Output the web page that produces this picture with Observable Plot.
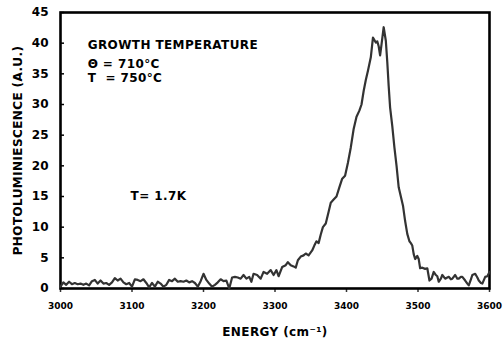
<!DOCTYPE html>
<html>
<head>
<meta charset="utf-8">
<script src="https://cdn.jsdelivr.net/npm/d3@7"></script>
<script src="https://cdn.jsdelivr.net/npm/@observablehq/plot@0.6"></script>
<style>
  html, body { margin: 0; padding: 0; background: #fff; }
  svg text { white-space: pre; }
</style>
</head>
<body>
<div id="chart"></div>
<script>
const energy = [
  3000,3004,3008,3012,3016,3020,3024,3028,3032,3036,3040,3044,3048,3052,3056,3060,3064,3068,3072,3076,
  3080,3084,3088,3092,3096,3100,3104,3108,3112,3116,3120,3124,3128,3132,3136,3140,3144,3148,3152,3156,
  3160,3164,3168,3172,3176,3180,3184,3188,3192,3196,3200,3204,3208,3212,3216,3220,3224,3228,3232,3236,
  3240,3244,3248,3252,3256,3260,3264,3267,3270,3275,3280,3284,3289,3294,3298,3302,3305,3310,3315,3318,
  3322,3326,3329,3332,3336,3340,3343,3347,3352,3355,3358,3361,3364,3367,3371,3375,3378,3382,3386,3390,
  3394,3398,3402,3406,3410,3414,3418,3421,3424,3427,3430,3434,3437,3439,3441,3443,3445,3447,3449,3452,
  3455,3457,3459,3461,3464,3467,3470,3473,3476,3479,3482,3485,3488,3490,3492,3494,3496,3499,3501,3503,
  3506,3510,3513,3516,3519,3522,3525,3527,3529,3532,3534,3538,3541,3543,3546,3548,3552,3555,3557,3560,
  3562,3566,3569,3571,3574,3576,3580,3583,3585,3588,3590,3594,3597,3600
];
const intensity = [
  0.3,1.0,0.6,1.1,0.7,0.9,0.7,0.8,0.6,0.8,0.5,1.2,1.4,0.8,1.3,0.8,0.9,0.6,1.0,1.7,
  1.3,1.6,1.0,0.7,0.9,0.3,1.5,1.4,1.2,1.5,0.9,0.2,0.9,0.3,1.1,0.8,0.3,0.6,1.4,1.2,
  1.6,1.1,1.2,1.1,1.3,1.0,1.2,0.9,0.3,1.2,2.4,1.4,0.8,0.3,0.6,1.0,1.5,1.2,1.3,0.0,
  1.8,1.9,1.8,1.6,2.2,1.6,1.9,1.1,2.4,2.2,1.6,2.7,2.4,3.0,2.2,3.0,2.0,3.5,3.8,4.3,
  3.8,3.6,3.4,4.6,5.2,5.4,5.7,5.4,6.2,7.0,7.7,7.4,8.8,10.0,10.6,12.5,14.0,14.5,15.0,16.5,
  17.9,18.4,20.5,23.0,26.0,28.0,29.0,30.0,32.2,34.0,35.5,37.7,40.9,40.5,40.1,40.3,39.5,38.0,39.8,42.6,
  40.4,37.0,33.0,29.5,26.5,23.0,20.0,16.5,15.0,13.5,11.0,8.9,7.7,7.4,7.0,5.6,4.8,5.3,4.8,3.3,
  3.4,3.2,3.3,1.3,1.6,2.7,2.2,2.0,1.1,1.6,2.2,1.6,1.8,1.9,1.5,1.6,2.2,1.6,1.6,1.9,
  1.9,1.3,0.8,0.5,1.5,2.2,2.4,1.8,1.3,0.9,0.8,1.9,2.0,2.7
];
const xTicks = [3000,3100,3200,3300,3400,3500,3600];
const yTicks = [0,5,10,15,20,25,30,35,40,45];
const xLabel = "ENERGY (cm\u207B\u00B9)";
const yLabel = "PHOTOLUMINIESCENCE (A.U.)";
const notes = ["GROWTH TEMPERATURE", "\u0398 = 710°C", "T  = 750°C", "T= 1.7K"];
const noteE = [3038, 3038, 3038, 3098];
const noteV = [39.0, 36.0, 33.6, 14.4];

const data = energy.map((e, i) => ({e, v: intensity[i]}));
const noteData = notes.map((t, i) => ({t, e: noteE[i], v: noteV[i]}));

const font = "DejaVu Sans, Arial, sans-serif";

const chart = Plot.plot({
  width: 503,
  height: 339,
  marginLeft: 60,
  marginRight: 14,
  marginTop: 12,
  marginBottom: 51,
  style: {fontFamily: font, fontWeight: "bold", color: "#000", background: "#fff"},
  x: {domain: [3000, 3600]},
  y: {domain: [0, 45]},
  marks: [
    Plot.axisX({ticks: xTicks, tickSize: 4, tickPadding: 10, fontSize: 9, fontWeight: "bold",
      stroke: "#333", strokeWidth: 1.5, tickFormat: d => String(d),
      label: xLabel, labelAnchor: "center", labelArrow: "none", labelOffset: 47}),
    Plot.axisY({ticks: yTicks, tickSize: 0, tickPadding: 12, fontSize: 12, fontWeight: "bold",
      label: yLabel, labelAnchor: "center", labelArrow: "none", labelOffset: 47}),
    Plot.axisY({ticks: yTicks, tickSize: 4, dx: 4, tickFormat: () => "", stroke: "#000", strokeWidth: 1.5, label: null}),
    Plot.frame({stroke: "#000", strokeWidth: 2.6}),
    Plot.line(data, {x: "e", y: "v", stroke: "#333", strokeWidth: 2.2}),
    Plot.text(noteData, {x: "e", y: "v", text: "t", textAnchor: "start", lineAnchor: "bottom",
      fontSize: 12, fontWeight: "bold", fill: "#000"})
  ]
});
document.getElementById("chart").appendChild(chart);
// bigger axis label fonts
d3.select(chart).selectAll("g[aria-label='x-axis label'] text, g[aria-label='y-axis label'] text")
  .attr("font-size", 12).attr("letter-spacing", "0.4px");
d3.select(chart).selectAll("g[aria-label='text'] text").attr("letter-spacing", "0.4px");
</script>
</body>
</html>
